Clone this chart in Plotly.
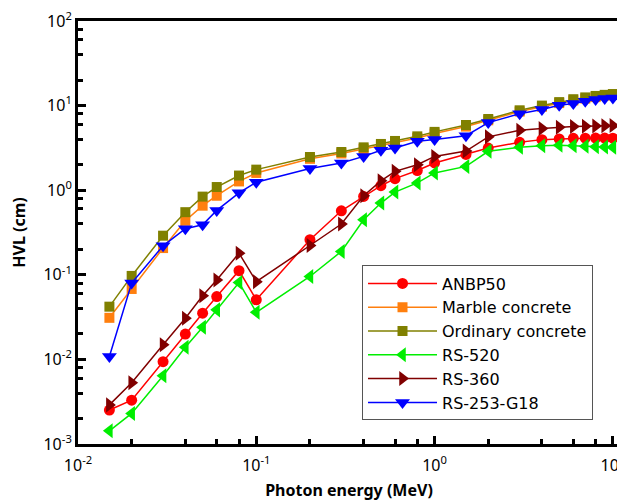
import plotly.graph_objects as go

energy = [0.015, 0.02, 0.03, 0.04, 0.05, 0.06, 0.08, 0.1, 0.2, 0.3, 0.4, 0.5, 0.6,
          0.8, 1.0, 1.5, 2, 3, 4, 5, 6, 7, 8, 9, 10]

anbp50 = [0.00252, 0.0033, 0.0094, 0.0199, 0.0352, 0.0553, 0.112, 0.0506, 0.26, 0.571,
          0.845, 1.13, 1.37, 1.71, 2.1, 2.65, 3.15, 3.68, 3.96, 4.04, 4.1, 4.12, 4.13, 4.13, 4.12]
marble = [0.031, 0.068, 0.207, 0.435, 0.656, 0.86, 1.27, 1.6, 2.35, 2.72, 3.08, 3.38, 3.66,
          4.15, 4.68, 5.65, 6.7, 8.5, 9.7, 10.7, 11.5, 12.1, 12.6, 13.1, 13.4]
ordinary = [0.042, 0.097, 0.29, 0.55, 0.84, 1.09, 1.49, 1.75, 2.47, 2.83, 3.21, 3.52, 3.82,
            4.33, 4.89, 5.9, 6.95, 8.8, 10.0, 11.0, 11.9, 12.5, 13.0, 13.4, 13.7]
rs520 = [0.00143, 0.0023, 0.0064, 0.0139, 0.024, 0.0385, 0.081, 0.036, 0.0955, 0.189,
         0.448, 0.705, 0.95, 1.22, 1.6, 1.91, 2.88, 3.22, 3.36, 3.4, 3.35, 3.3, 3.27, 3.24, 3.22]
rs360 = [0.0029, 0.0053, 0.0149, 0.0307, 0.0564, 0.087, 0.18, 0.083, 0.222, 0.398,
         0.861, 1.29, 1.67, 2.0, 2.51, 2.9, 4.27, 5.1, 5.35, 5.55, 5.65, 5.7, 5.75, 5.78, 5.8]
rs253 = [0.0108, 0.08, 0.22, 0.35, 0.39, 0.577, 0.93, 1.24, 1.8, 2.1, 2.51, 2.96, 3.16,
         3.78, 3.97, 4.4, 6.3, 8.0, 9.0, 10.1, 10.6, 11.25, 11.8, 12.1, 12.3]

series_names = ["ANBP50", "Marble concrete", "Ordinary concrete", "RS-520", "RS-360", "RS-253-G18"]
series_values = [anbp50, marble, ordinary, rs520, rs360, rs253]
colors = ["#ff0000", "#ff7f0e", "#808000", "#00ee00", "#800000", "#0000ff"]
symbols = ["circle", "square", "square", "triangle-left", "triangle-right", "triangle-down"]
sizes = [11, 10, 10, 13, 13, 13]

x_tickvals = [0.01, 0.1, 1, 10]
x_ticktext = ["10<sup>-2</sup>", "10<sup>-1</sup>", "10<sup>0</sup>", "10<sup>1</sup>"]
y_tickvals = [0.001, 0.01, 0.1, 1, 10, 100]
y_ticktext = ["10<sup>-3</sup>", "10<sup>-2</sup>", "10<sup>-1</sup>", "10<sup>0</sup>",
              "10<sup>1</sup>", "10<sup>2</sup>"]

def minor_vals(lo_exp, hi_exp):
    out = []
    for e in range(lo_exp, hi_exp):
        for m in (2, 4, 6, 8):
            out.append(m * 10 ** e)
    return out

fig = go.Figure()
for name, vals, c, s, sz in zip(series_names, series_values, colors, symbols, sizes):
    fig.add_trace(go.Scatter(
        x=energy, y=vals, name=name, mode="lines+markers",
        line=dict(color=c, width=1.5),
        marker=dict(symbol=s, size=sz, color=c, line=dict(width=0)),
    ))

font_family = "Noto Sans, Open Sans, DejaVu Sans, sans-serif"
legend_family = "DejaVu Sans, Noto Sans, sans-serif"

axis_common = dict(
    type="log", showgrid=False, zeroline=False, automargin=False,
    showline=True, linecolor="black", linewidth=3, mirror=True,
    ticks="inside", ticklen=8, tickwidth=2.5, tickcolor="black",
    tickmode="array", ticklabeloverflow="allow",
    tickfont=dict(family=font_family, size=16, color="black"),
)

fig.update_xaxes(
    **axis_common,
    range=[-2, 1.04],
    tickvals=x_tickvals, ticktext=x_ticktext,
    ticklabelstandoff=5,
    minor=dict(tickmode="array", tickvals=minor_vals(-2, 1), ticks="inside",
               ticklen=5, tickwidth=2.5, tickcolor="black"),
    title=dict(text="<b>Photon energy (MeV)</b>",
               font=dict(family=font_family, size=16, color="black"), standoff=12),
)
fig.update_yaxes(
    **axis_common,
    range=[-3, 2],
    tickvals=y_tickvals, ticktext=y_ticktext,
    minor=dict(tickmode="array", tickvals=minor_vals(-3, 2), ticks="inside",
               ticklen=5, tickwidth=2.5, tickcolor="black"),
    title=dict(text="<b>HVL (cm)</b>",
               font=dict(family=font_family, size=16, color="black"), standoff=17),
)

# page body has an 8px default margin, so the figure is 8px smaller and margins shifted
fig.update_layout(
    width=617, height=493,
    margin=dict(l=70, r=5, t=13, b=57),
    paper_bgcolor="white", plot_bgcolor="white",
    showlegend=True,
    legend=dict(
        x=0.524, y=0.422, xanchor="left", yanchor="top",
        bgcolor="white", bordercolor="#555555", borderwidth=1,
        font=dict(family=legend_family, size=16, color="black"),
        itemwidth=69, tracegroupgap=0,
    ),
)

fig.write_html("out.html")
